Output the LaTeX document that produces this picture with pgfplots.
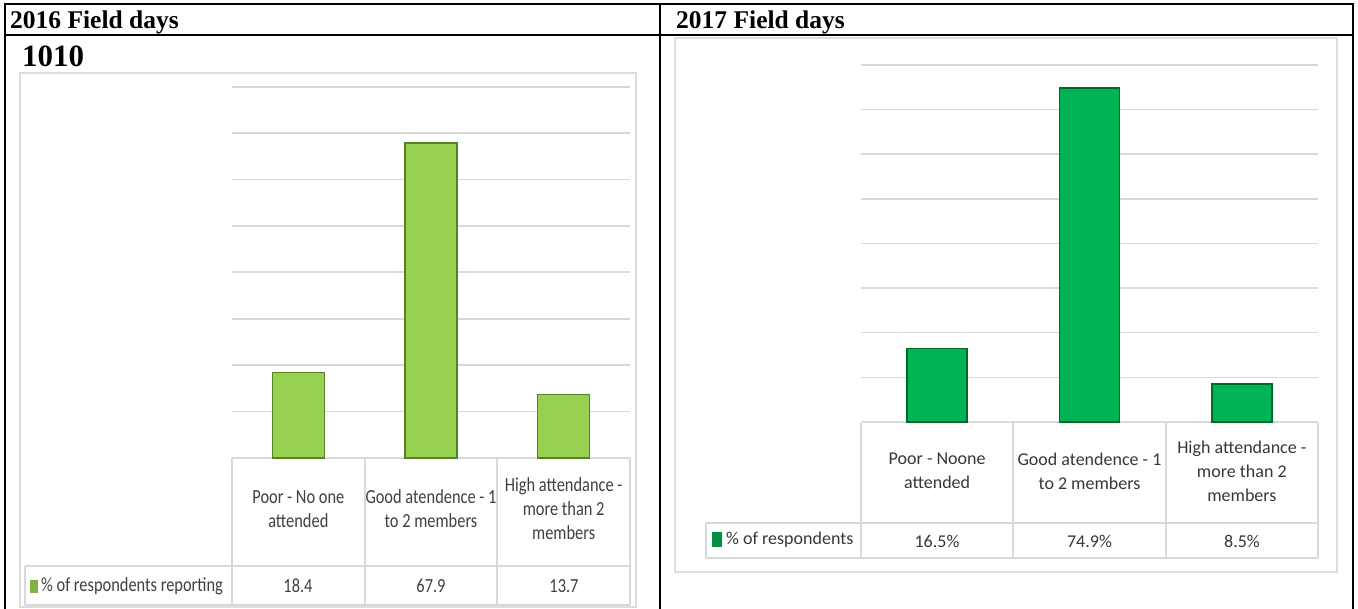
\documentclass[border=0pt]{standalone}
\usepackage{pgfplots}
\pgfplotsset{compat=1.18}
\usepackage{fontspec}
\setmainfont{Liberation Serif}
\newfontfamily\calib{Carlito}
\newfontfamily\calibc[FakeStretch=0.82]{Carlito}
\definecolor{lface}{RGB}{150,210,80}
\definecolor{ledge}{RGB}{85,130,40}
\definecolor{rface}{RGB}{0,180,85}
\definecolor{redge}{RGB}{0,105,45}
\definecolor{gridc}{RGB}{217,217,217}
\definecolor{framec}{RGB}{222,222,222}
\definecolor{txt}{RGB}{64,64,64}
\definecolor{txtr}{RGB}{55,55,55}
\begin{document}
\begin{tikzpicture}[x=1pt,y=1pt]
\path[use as bounding box] (0,0) rectangle (1358,609);
% outer table frame
\draw[line width=2.6pt] (5,0) -- (5,605) -- (1353,605) -- (1353,0);
\draw[line width=2.6pt] (5,574) -- (1353,574);
\draw[line width=2.6pt] (660,605) -- (660,0);
\node[anchor=base west,inner sep=0] at (10,580) {\fontsize{25.5}{28}\selectfont\bfseries 2016 Field days};
\node[anchor=base west,inner sep=0] at (676,580) {\fontsize{25.5}{28}\selectfont\bfseries 2017 Field days};
\node[anchor=base west,inner sep=0] at (22,542) {\fontsize{31}{34}\selectfont\bfseries 1010};
% chart frames
\draw[framec,line width=1.5pt] (20,2) rectangle (636,536);
\draw[framec,line width=1.5pt] (675,37) rectangle (1337,571);
% left chart
\begin{axis}[at={(232pt,151pt)},anchor=south west,scale only axis,
  width=398pt,height=371.2pt,xmin=-0.5,xmax=2.5,ymin=0,ymax=80,
  ytick={0,10,...,80},yticklabels={},ymajorgrids,
  major grid style={draw=gridc,line width=1.8pt},
  axis line style={draw=none},major tick length=0pt,
  xtick={0,1,2},
  xticklabels={{Poor - No one\\attended},{Good atendence - 1\\to 2 members},{High attendance -\\more than 2\\members}},
  xticklabel style={align=center,font=\calibc\fontsize{20}{24}\selectfont,text=txt,anchor=center,yshift=-51pt},
  ybar,bar width=52pt,clip=false]
\addplot[fill=lface,draw=ledge,line width=1.6pt] coordinates {(0,18.4) (1,67.9) (2,13.7)};
\end{axis}
% left data table
\begin{scope}[gridc,line width=1.2pt]
\draw (232,151) -- (232,4);
\draw (365,151) -- (365,4);
\draw (497,151) -- (497,4);
\draw (630,151) -- (630,4);
\draw (25,43) -- (630,43);
\draw (25,4) -- (630,4);
\draw (25,43) -- (25,4);
\end{scope}
\fill[lface!85!black] (30,16) rectangle (38,29);
\node[anchor=west,inner sep=0,text=txt,font=\calibc\fontsize{20}{24}\selectfont] at (41,23) {\% of respondents reporting};
\foreach \x/\v in {298/18.4,431/67.9,564/13.7}
  \node[text=txt,font=\calibc\fontsize{20}{24}\selectfont] at (\x,23) {\v};
% right chart
\begin{axis}[at={(861pt,187pt)},anchor=south west,scale only axis,
  width=457pt,height=357pt,xmin=-0.5,xmax=2.5,ymin=0,ymax=80,
  ytick={0,10,...,80},yticklabels={},ymajorgrids,
  major grid style={draw=gridc,line width=1.5pt},
  axis line style={draw=none},major tick length=0pt,
  xtick={0,1,2},
  xticklabels={{Poor - Noone\\attended},{Good atendence - 1\\to 2 members},{High attendance -\\more than 2\\members}},
  xticklabel style={align=center,font=\calib\fontsize{18}{24}\selectfont,text=txtr,anchor=center,yshift=-49pt},
  ybar,bar width=60pt,clip=false]
\addplot[fill=rface,draw=redge,line width=1.6pt] coordinates {(0,16.5) (1,74.9) (2,8.5)};
\end{axis}
% right data table
\begin{scope}[gridc,line width=1.2pt]
\draw (861,186) -- (861,51);
\draw (1013,186) -- (1013,51);
\draw (1166,186) -- (1166,51);
\draw (1318,186) -- (1318,51);
\draw (706,86) -- (1318,86);
\draw (706,51) -- (1318,51);
\draw (706,86) -- (706,51);
\end{scope}
\fill[rface!80!black] (712,62) rectangle (722,77);
\node[anchor=west,inner sep=0,text=txtr,font=\calib\fontsize{18}{22}\selectfont] at (726,69) {\% of respondents};
\foreach \x/\v in {937/16.5\%,1089.5/74.9\%,1242/8.5\%}
  \node[text=txtr,font=\calib\fontsize{18}{22}\selectfont] at (\x,68) {\v};
\end{tikzpicture}
\end{document}
